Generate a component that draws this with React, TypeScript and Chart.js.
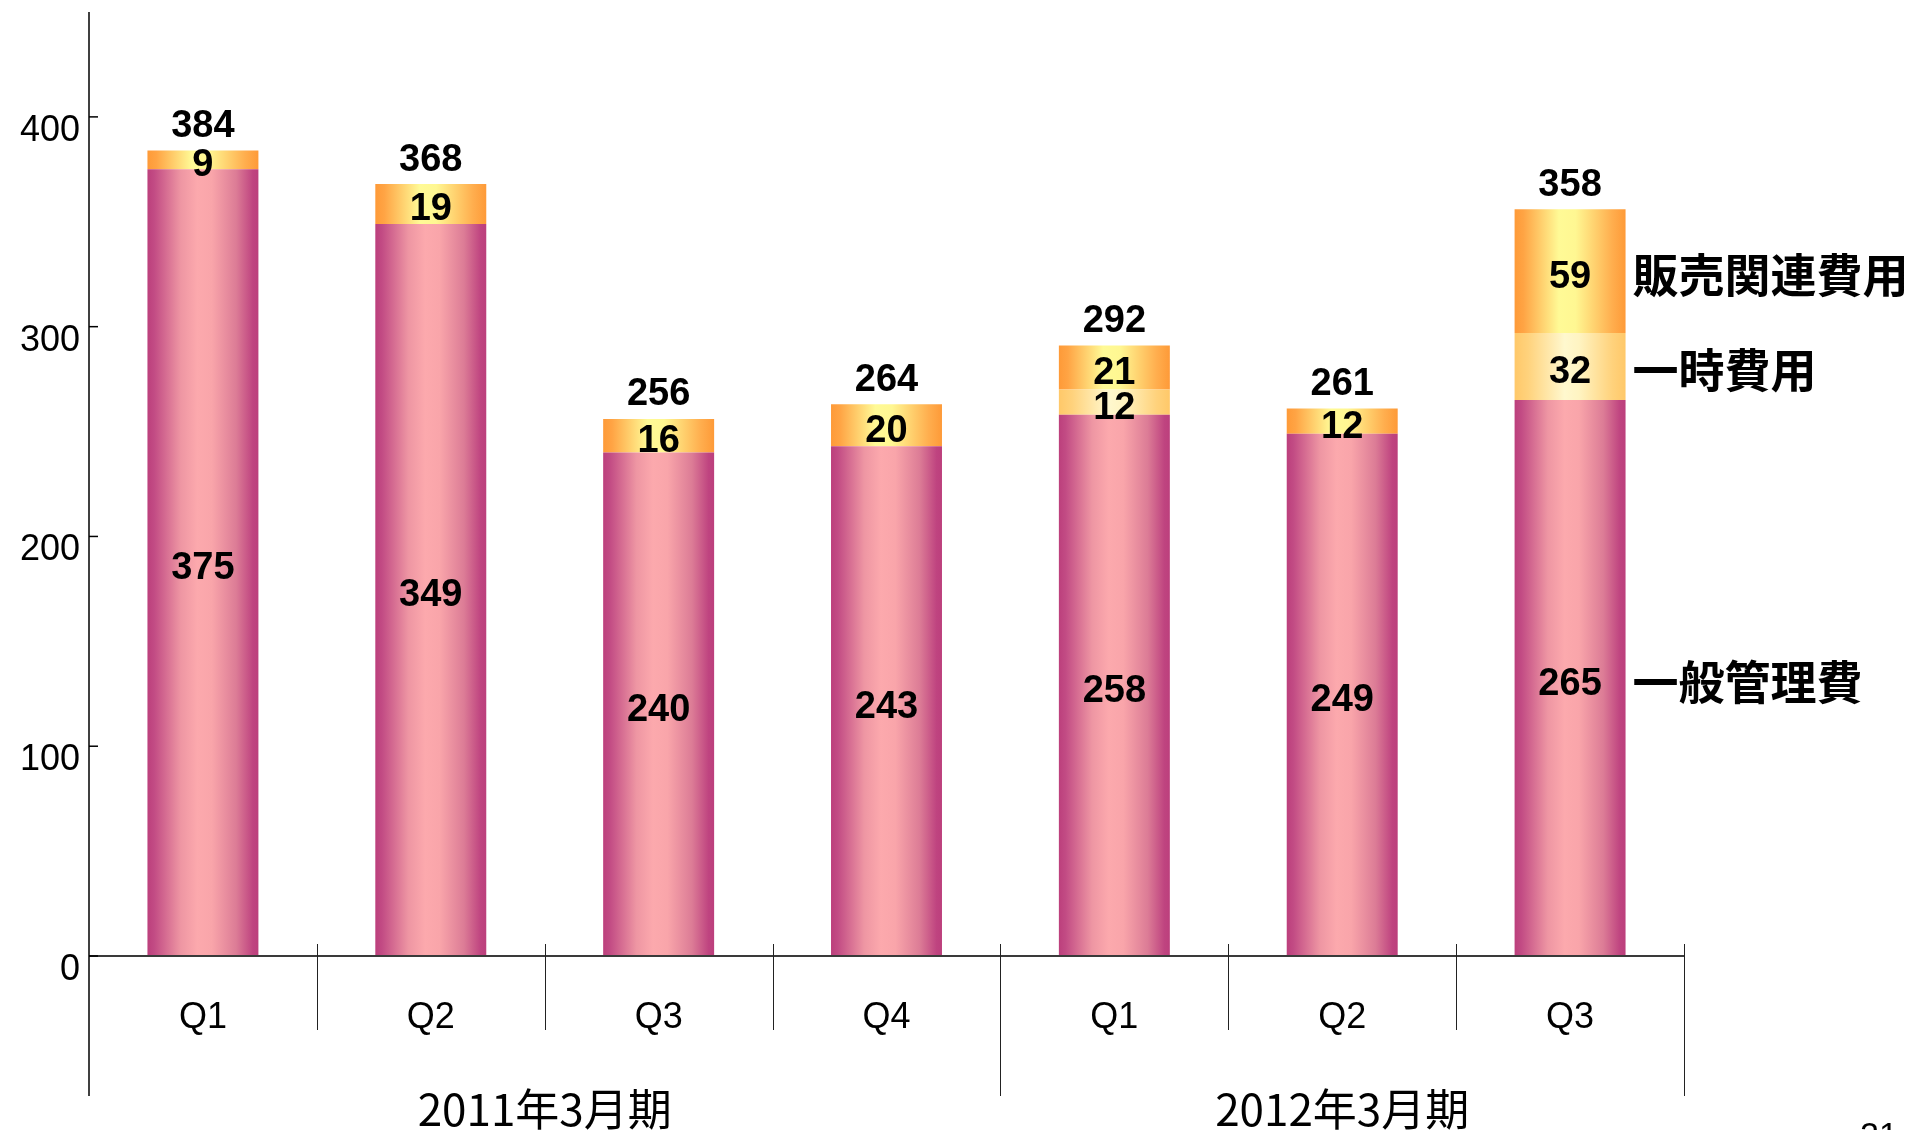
import React, { useEffect, useRef } from 'react';
import { Chart, registerables } from 'chart.js';

Chart.register(...registerables);

// ---- data ----
const categories = ['Q1', 'Q2', 'Q3', 'Q4', 'Q1', 'Q2', 'Q3'];
const groupLabels = ['2011年3月期', '2012年3月期'];
const groupStarts = [0, 4];
const groupEnds = [3, 6];
const generalAdmin = [375, 349, 240, 243, 258, 249, 265];
const oneTimeCost = [0, 0, 0, 0, 12, 0, 32];
const salesRelated = [9, 19, 16, 20, 21, 12, 59];
const totals = [384, 368, 256, 264, 292, 261, 358];
const seriesNames = ['一般管理費', '一時費用', '販売関連費用'];
const yTickValues = [0, 100, 200, 300, 400];
const pageNumber = '21';

// ---- style ----
const BAR_PCT = 0.487;
const LATIN = '"Liberation Sans", Arial, sans-serif';
const CJK = '"Noto Sans CJK JP", "Noto Sans", sans-serif';

const stopsGeneral: [number, string][] = [
  [0, '#BC3F7C'], [0.06, '#C24B84'], [0.3, '#EE96A3'], [0.45, '#FCA9AD'],
  [0.58, '#F9A5AA'], [0.8, '#DC7C96'], [0.95, '#BF4480'], [1, '#BC3F7C'],
];
const stopsOneTime: [number, string][] = [
  [0, '#FFC869'], [0.12, '#FFD27C'], [0.45, '#FFF8CE'], [0.58, '#FFF4C2'],
  [0.88, '#FFD27C'], [1, '#FFC869'],
];
const stopsSales: [number, string][] = [
  [0, '#FE9A38'], [0.08, '#FFA444'], [0.4, '#FFFA96'], [0.55, '#FFF792'],
  [0.88, '#FFAE4E'], [1, '#FE9A38'],
];

function gradFill(stops: [number, string][]) {
  return (c: any) => {
    const chart = c.chart;
    const xs = chart.scales && chart.scales.x;
    if (!xs || c.dataIndex === undefined || !xs.width) return stops[0][1];
    const center = xs.getPixelForValue(c.dataIndex);
    const w = (xs.width / categories.length) * BAR_PCT;
    const g = chart.ctx.createLinearGradient(center - w / 2, 0, center + w / 2, 0);
    stops.forEach(([o, col]) => g.addColorStop(o, col));
    return g;
  };
}

function line(ctx: CanvasRenderingContext2D, x1: number, y1: number, x2: number, y2: number) {
  ctx.beginPath();
  ctx.moveTo(x1, y1);
  ctx.lineTo(x2, y2);
  ctx.stroke();
}

const decorPlugin = {
  id: 'decor',
  afterDatasetsDraw(chart: any) {
    const ctx: CanvasRenderingContext2D = chart.ctx;
    const xs = chart.scales.x;
    ctx.save();
    ctx.fillStyle = '#000';
    ctx.textAlign = 'center';
    ctx.textBaseline = 'middle';
    ctx.font = `bold 38px ${LATIN}`;
    // segment values
    chart.data.datasets.forEach((ds: any, di: number) => {
      const meta = chart.getDatasetMeta(di);
      meta.data.forEach((el: any, i: number) => {
        const v = ds.data[i];
        if (!v) return;
        ctx.fillText(String(v), el.x, (el.y + el.base) / 2 + 6);
      });
    });
    // totals
    totals.forEach((t, i) => {
      let top = Infinity;
      chart.data.datasets.forEach((ds: any, di: number) => {
        const el = chart.getDatasetMeta(di).data[i];
        if (ds.data[i]) top = Math.min(top, el.y);
      });
      ctx.fillText(String(t), xs.getPixelForValue(i), top - 24);
    });
    // series names next to last bar
    const last = categories.length - 1;
    ctx.font = `bold 46px ${CJK}`;
    ctx.textAlign = 'left';
    chart.data.datasets.forEach((ds: any, di: number) => {
      const el = chart.getDatasetMeta(di).data[last];
      const right = el.x + el.width / 2;
      ctx.fillText(seriesNames[di], right + 7, (el.y + el.base) / 2 + 3);
    });
    ctx.restore();
  },
  afterDraw(chart: any) {
    const ctx: CanvasRenderingContext2D = chart.ctx;
    const xs = chart.scales.x;
    const ys = chart.scales.y;
    const area = chart.chartArea;
    const left = area.left;
    const bottom = ys.getPixelForValue(0);
    const axisEnd = 1096;
    ctx.save();
    // x baseline
    ctx.strokeStyle = '#3a3a3a';
    ctx.lineWidth = 2;
    line(ctx, left, bottom, area.right, bottom);
    // y axis
    ctx.strokeStyle = '#000';
    ctx.lineWidth = 1.5;
    line(ctx, left, area.top, left, axisEnd);
    yTickValues.forEach((v) => {
      const y = ys.getPixelForValue(v);
      line(ctx, left, y, left + 9, y);
    });
    // category dividers
    ctx.lineWidth = 1;
    ctx.strokeStyle = '#222';
    const cw = xs.width / categories.length;
    for (let i = 1; i <= categories.length; i++) {
      const x = Math.round(xs.getPixelForValue(i - 1) + cw / 2) + 0.5;
      const isGroup = groupStarts.includes(i) || i === categories.length;
      line(ctx, x, bottom - 12, x, isGroup ? axisEnd : 1030);
    }
    // group labels
    ctx.fillStyle = '#000';
    ctx.textAlign = 'center';
    ctx.textBaseline = 'alphabetic';
    ctx.font = `44px ${CJK}`;
    groupLabels.forEach((g, gi) => {
      const cx = (xs.getPixelForValue(groupStarts[gi]) + xs.getPixelForValue(groupEnds[gi])) / 2;
      ctx.fillText(g, cx, 1126);
    });
    // page number (cut off at bottom)
    ctx.textAlign = 'left';
    ctx.font = `34px ${LATIN}`;
    ctx.fillText(pageNumber, 1860, 1146);
    ctx.restore();
  },
};

export default function App() {
  const ref = useRef<HTMLCanvasElement | null>(null);
  useEffect(() => {
    if (!ref.current) return;
    Chart.defaults.font.family = LATIN;
    const chart = new Chart(ref.current, {
      type: 'bar',
      data: {
        labels: categories,
        datasets: [
          { label: seriesNames[0], data: generalAdmin, backgroundColor: gradFill(stopsGeneral) as any, borderWidth: 0 },
          { label: seriesNames[1], data: oneTimeCost, backgroundColor: gradFill(stopsOneTime) as any, borderWidth: 0 },
          { label: seriesNames[2], data: salesRelated, backgroundColor: gradFill(stopsSales) as any, borderWidth: 0 },
        ],
      },
      options: {
        animation: false,
        responsive: false,
        maintainAspectRatio: false,
        devicePixelRatio: 1,
        layout: { padding: { left: 0, right: 231, top: 12, bottom: 0 } },
        datasets: { bar: { categoryPercentage: 1, barPercentage: BAR_PCT } },
        plugins: { legend: { display: false }, tooltip: { enabled: false } },
        scales: {
          x: {
            stacked: true,
            grid: { display: false, drawTicks: false },
            border: { display: false },
            ticks: { color: '#000', font: { size: 36, family: LATIN }, padding: 40, maxRotation: 0, autoSkip: false },
            afterFit: (s: any) => { s.height = 174; s.paddingLeft = 0; s.paddingRight = 0; },
          },
          y: {
            stacked: true,
            min: 0,
            max: 450,
            grid: { display: false, drawTicks: false },
            border: { display: false },
            afterBuildTicks: (s: any) => { s.ticks = yTickValues.map((v) => ({ value: v })); },
            ticks: { color: '#000', font: { size: 36, family: LATIN }, padding: 9, labelOffset: 14 },
            afterFit: (s: any) => { s.width = 89; s.paddingTop = 0; s.paddingBottom = 0; },
          },
        },
      },
      plugins: [decorPlugin],
    });
    return () => chart.destroy();
  }, []);
  return (
    <div style={{ position: 'fixed', left: 0, top: 0, width: 1915, height: 1130, background: '#fff' }}>
      <canvas ref={ref} width={1915} height={1130} style={{ width: 1915, height: 1130, display: 'block' }} />
    </div>
  );
}
